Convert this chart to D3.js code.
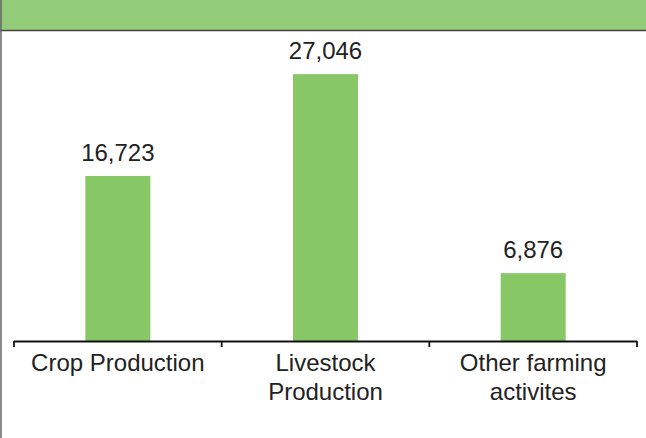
<!DOCTYPE html>
<html>
<head>
<meta charset="utf-8">
<script src="https://cdn.jsdelivr.net/npm/d3@7"></script>
<style>
  body { margin: 0; background: #fff; }
  svg { display: block; font-family: "Liberation Sans", Arial, sans-serif; }
</style>
</head>
<body>
<svg id="chart"></svg>
<script>
const categories = ["Crop Production", "Livestock Production", "Other farming activites"];
const catLines = [["Crop Production"], ["Livestock", "Production"], ["Other farming", "activites"]];
const values = [16723, 27046, 6876];

const W = 646, H = 438;
const margin = { top: 45, left: 14 },
    width = 623,
    height = 296;

const svg = d3.select("#chart")
    .attr("width", W)
    .attr("height", H);

// green header band
svg.append("rect")
    .attr("x", 0).attr("y", 0)
    .attr("width", W).attr("height", 30)
    .attr("fill", "#92cc78");
svg.append("line")
    .attr("x1", 0).attr("x2", W)
    .attr("y1", 30.5).attr("y2", 30.5)
    .attr("stroke", "#444").attr("stroke-width", 1.5);
// left frame
svg.append("line")
    .attr("x1", 1).attr("x2", 1)
    .attr("y1", 0).attr("y2", H)
    .attr("stroke", "#666").attr("stroke-width", 1.5);

const g = svg.append("g")
    .attr("transform", `translate(${margin.left}, ${margin.top})`);

const x = d3.scaleBand()
    .range([0, width])
    .domain(categories);

const y = d3.scaleLinear()
    .domain([0, 30000])
    .range([height, 0]);

const barW = x.bandwidth() * 0.313;

// bars
g.selectAll(".bar")
    .data(values)
    .enter()
    .append("rect")
    .attr("class", "bar")
    .attr("x", (d, i) => x(categories[i]) + x.bandwidth() / 2 - barW / 2)
    .attr("y", d => y(d))
    .attr("width", barW)
    .attr("height", d => y(0) - y(d))
    .attr("fill", "#88c765");

// value labels
g.selectAll(".val")
    .data(values)
    .enter()
    .append("text")
    .attr("class", "val")
    .attr("x", (d, i) => x(categories[i]) + x.bandwidth() / 2)
    .attr("y", d => y(d) - 15)
    .attr("text-anchor", "middle")
    .attr("font-size", 24)
    .attr("fill", "#222")
    .text(d => d3.format(",")(d));

// x axis: baseline with ticks at band edges
const axis = g.append("g").attr("transform", `translate(0, ${y(0)})`);
axis.append("line")
    .attr("x1", 0).attr("x2", width)
    .attr("y1", 0.5).attr("y2", 0.5)
    .attr("stroke", "#111").attr("stroke-width", 1.8);
const edges = categories.map(c => x(c)).concat([width]);
axis.selectAll(".tick")
    .data(edges)
    .enter()
    .append("line")
    .attr("x1", d => d).attr("x2", d => d)
    .attr("y1", 0).attr("y2", 6)
    .attr("stroke", "#111").attr("stroke-width", 1.8);

// category labels
const lab = axis.selectAll(".cat")
    .data(catLines)
    .enter()
    .append("text")
    .attr("class", "cat")
    .attr("text-anchor", "middle")
    .attr("font-size", 24)
    .attr("fill", "#222")
    .attr("transform", (d, i) => `translate(${x(categories[i]) + x.bandwidth() / 2}, 30)`);
lab.selectAll("tspan")
    .data(d => d)
    .enter()
    .append("tspan")
    .attr("x", 0)
    .attr("dy", (d, i) => i === 0 ? 0 : 28.5)
    .text(d => d);
</script>
</body>
</html>
